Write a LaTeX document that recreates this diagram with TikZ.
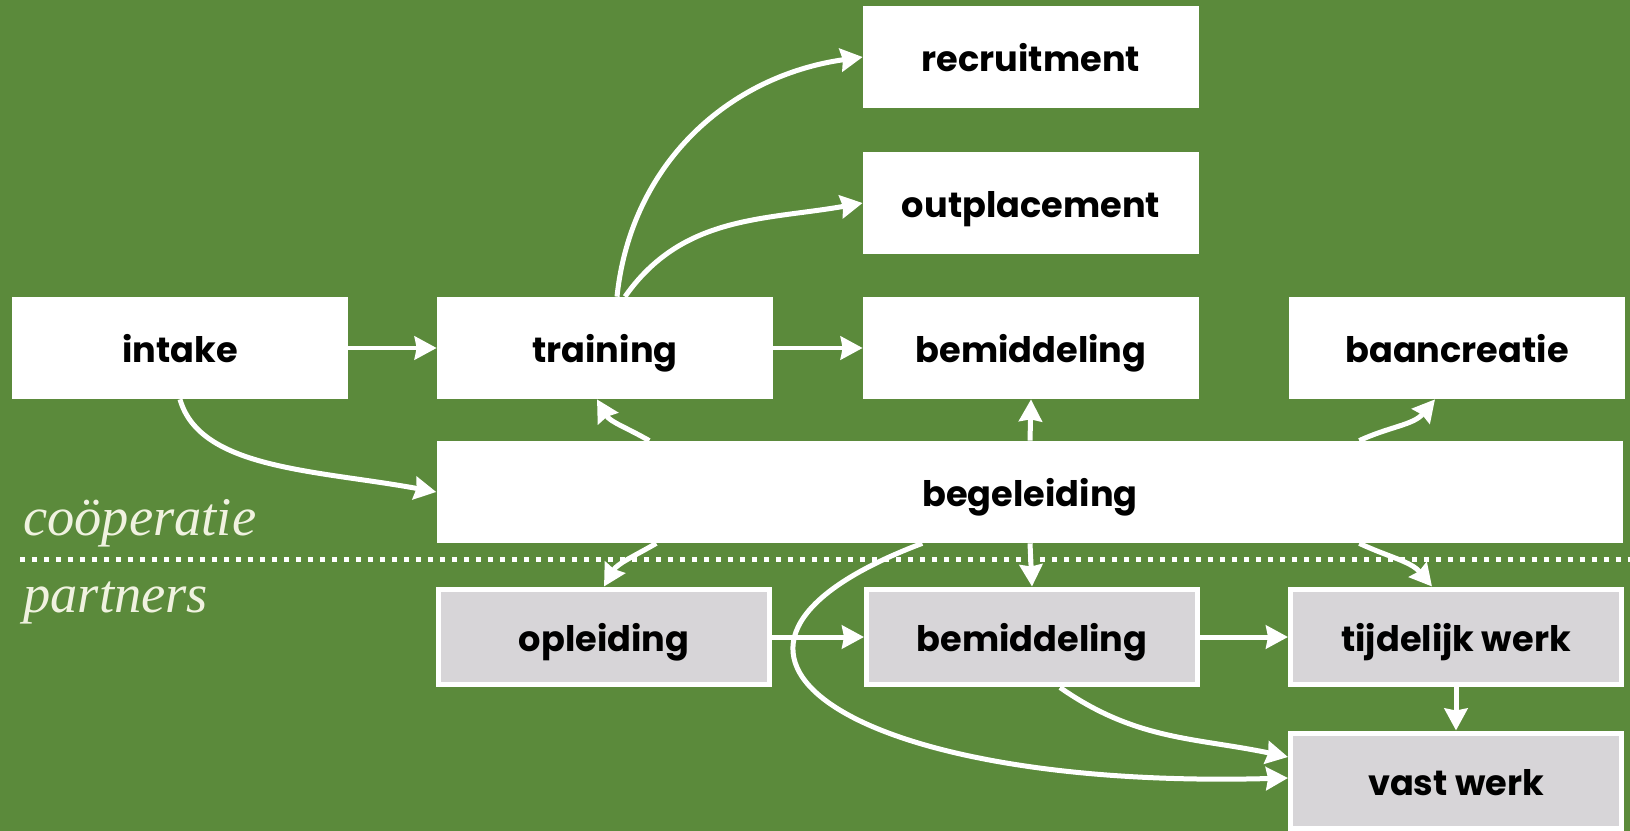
\documentclass[tikz,border=0pt]{standalone}
\usepackage{fontspec}
\newfontfamily\boxfont{Poppins}
\newfontfamily\sidefont{Liberation Serif}
\usetikzlibrary{arrows.meta,calc}

\definecolor{bggreen}{HTML}{5B8A3B}
\definecolor{partgray}{HTML}{D7D5D8}
\definecolor{cream}{HTML}{F0F2E0}

\tikzset{
  unit/.style={fill=white, text=black, inner sep=0pt, minimum width=6.72cm, minimum height=2.04cm,
    text height=0.72cm, text depth=0.14cm, font=\boxfont\bfseries\fontsize{20}{24}\selectfont},
  partner/.style={unit, fill=partgray, draw=white, line width=0.1cm, minimum width=6.62cm, minimum height=1.92cm},
  flow/.style={white, line width=0.1cm, -{Stealth[length=0.44cm,width=0.46cm,inset=0.04cm]}},
  side/.style={text=cream, anchor=base west, inner sep=0pt, font=\sidefont\itshape\fontsize{31}{33}\selectfont}
}

\begin{document}
\begin{tikzpicture}[x=0.02cm,y=-0.02cm]

\fill[bggreen] (0,0) rectangle (1630,831);
\useasboundingbox (0,0) rectangle (1630,831);

\draw[white, line width=0.1cm, dash pattern=on 0.1cm off 0.14cm] (20,559) -- (1630,559);

\node[side] (coop) at (23,535) {coöperatie};
\node[side] (part) at (23,612) {partners};

\node[unit] (recr) at (1031,57) {recruitment};
\node[unit] (outp) at (1031,203) {outplacement};
\node[unit] (intake) at (180,348) {intake};
\node[unit] (train) at (605,348) {training};
\node[unit] (bem) at (1031,348) {bemiddeling};
\node[unit] (baan) at (1457,348) {baancreatie};
\node[unit, minimum width=23.74cm] (beg) at (1030,492) {begeleiding};
\node[partner] (ople) at (604,637) {opleiding};
\node[partner] (bem2) at (1032,637) {bemiddeling};
\node[partner] (tij) at (1456,637) {tijdelijk werk};
\node[partner] (vast) at (1456,781) {vast werk};

\draw[flow] (intake) -- (train);
\draw[flow] (train) -- (bem);
\draw[flow] (ople) -- (bem2);
\draw[flow] (bem2) -- (tij);
\draw[flow] (tij) -- (vast);

\draw[flow] ([xshift=0.24cm]train.north) to[out=84,in=188] (recr.west);
\draw[flow] ([xshift=0.4cm]train.north) to[out=55,in=190] (outp.west);
\draw[flow] (intake.south) .. controls +(20,70) and +(-120,-22) .. (beg.west);

\draw[flow] ($(beg.north west)+(213,0)$) to[out=150,in=-60] ([xshift=-0.16cm]train.south);
\draw[flow] ($(beg.south west)+(220,0)$) to[out=-150,in=60] (ople.north);
\draw[flow] (beg.north) -- (bem.south);
\draw[flow] (beg.south) -- (bem2.north);
\draw[flow] ($(beg.north west)+(923,0)$) to[out=25,in=-130] ([xshift=-0.44cm]baan.south);
\draw[flow] ($(beg.south west)+(923,0)$) to[out=-25,in=130] ([xshift=-0.48cm]tij.north);

\draw[flow] ($(beg.south west)+(486,0)$) .. controls +(-283,107) and +(-438,12) .. ([yshift=0.06cm]vast.west);
\draw[flow] ([xshift=0.56cm]bem2.south) to[out=-35,in=168] ([yshift=0.48cm]vast.west);

\end{tikzpicture}
\end{document}
